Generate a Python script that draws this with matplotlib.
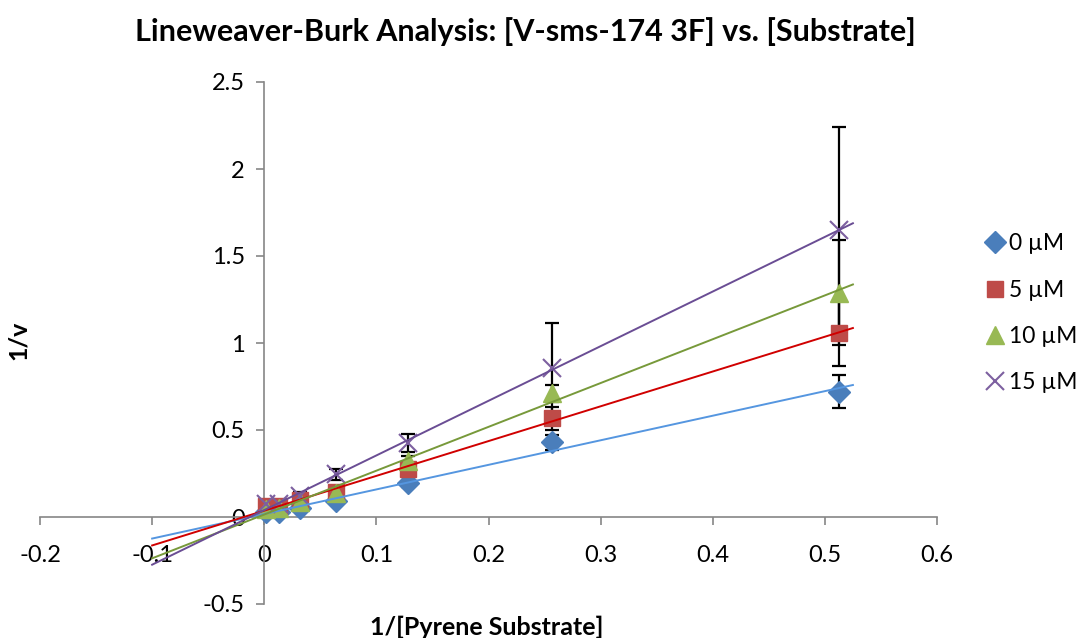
import numpy as np
import matplotlib
matplotlib.use('Agg')
import matplotlib.pyplot as plt
from matplotlib.lines import Line2D

plt.rcParams['font.family'] = ['Lato', 'DejaVu Sans']

# 1/[S] values
x_vals = [0.5128, 0.2564, 0.1282, 0.0641, 0.0321, 0.0128, 0.0020]

# 1/v for each inhibitor concentration
v_0uM = [0.72, 0.43, 0.195, 0.09, 0.05, 0.030, 0.030]
v_5uM = [1.06, 0.567, 0.274, 0.145, 0.095, 0.065, 0.065]
v_10uM = [1.29, 0.71, 0.32, 0.14, 0.085, 0.05, 0.045]
v_15uM = [1.65, 0.855, 0.425, 0.245, 0.120, 0.075, 0.075]

# standard errors
err_0uM = [0.095, 0.043, 0.02, 0.01, 0.01, 0.01, 0.01]
err_5uM = [0.19, 0.067, 0.03, 0.02, 0.01, 0.01, 0.01]
err_10uM = [0.30, 0.05, 0.03, 0.02, 0.01, 0.01, 0.01]
err_15uM = [0.59, 0.26, 0.05, 0.03, 0.025, 0.01, 0.01]

labels = ['0 µM', '5 µM', '10 µM', '15 µM']
series = [v_0uM, v_5uM, v_10uM, v_15uM]
errors = [err_0uM, err_5uM, err_10uM, err_15uM]
markers = ['D', 's', '^', 'x']
msizes = [11, 12, 13, 13]
colors = ['#4A7EBB', '#BE4B48', '#98B954', '#7D60A0']
line_colors = ['#5596E0', '#D00000', '#77993A', '#6A4D94']

fig = plt.figure(figsize=(10.85, 6.38), dpi=100)
ax = fig.add_axes([40/1085, 1-604/638, 897/1085, 522/638])

x = np.array(x_vals)
for i in range(4):
    y = np.array(series[i])
    ax.errorbar(x, y, yerr=errors[i], fmt='none', ecolor='black',
                elinewidth=1.6, capsize=5, capthick=1.6, zorder=2)
    if markers[i] == 'x':
        ax.plot(x, y, linestyle='none', marker='x', markersize=msizes[i],
                markeredgecolor=colors[i], markeredgewidth=1.5, zorder=3)
    else:
        ax.plot(x, y, linestyle='none', marker=markers[i], markersize=msizes[i],
                color=colors[i], markeredgecolor=colors[i], zorder=3)
    # linear trendline, extended back to -0.1
    slope, icpt = np.polyfit(x, y, 1)
    xt = np.array([-0.1, 0.525])
    ax.plot(xt, slope*xt + icpt, color=line_colors[i], linewidth=1.4, zorder=4)

ax.set_xlim(-0.2, 0.6)
ax.set_ylim(-0.5, 2.5)
ax.set_xticks([-0.2, -0.1, 0, 0.1, 0.2, 0.3, 0.4, 0.5, 0.6])
ax.set_xticklabels(['-0.2', '-0.1', '0', '0.1', '0.2', '0.3', '0.4', '0.5', '0.6'])
ax.set_yticks([-0.5, 0, 0.5, 1, 1.5, 2, 2.5])
ax.set_yticklabels(['-0.5', '0', '0.5', '1', '1.5', '2', '2.5'])

ax.spines['left'].set_position(('data', 0))
ax.spines['bottom'].set_position(('data', 0))
ax.spines['top'].set_visible(False)
ax.spines['right'].set_visible(False)
for s in ['left', 'bottom']:
    ax.spines[s].set_color('#868686')
    ax.spines[s].set_linewidth(1.2)
ax.tick_params(axis='x', direction='out', length=6, width=1.2, color='#868686',
               labelsize=17, pad=14)
ax.tick_params(axis='y', direction='out', length=6, width=1.2, color='#868686',
               labelsize=17, pad=8)
ax.patch.set_alpha(0)

fig.text(0.484, 0.95, 'Lineweaver-Burk Analysis: [V-sms-174 3F] vs. [Substrate]',
         ha='center', va='center', fontsize=22, fontweight='bold')
fig.text(0.017, 0.467, '1/v', ha='center', va='center', rotation=90,
         fontsize=18, fontweight='bold')
fig.text(0.449, 0.017, '1/[Pyrene Substrate]', ha='center', va='center',
         fontsize=18, fontweight='bold')

handles = []
for i in range(4):
    if markers[i] == 'x':
        h = Line2D([], [], linestyle='none', marker='x', markersize=msizes[i],
                   markeredgecolor=colors[i], markeredgewidth=1.5)
    else:
        h = Line2D([], [], linestyle='none', marker=markers[i], markersize=msizes[i],
                   color=colors[i])
    handles.append(h)
fig.legend(handles, labels, loc='center left', bbox_to_anchor=(0.895, 0.509),
           frameon=False, fontsize=16.5, handlelength=0.7, handletextpad=0.25,
           labelspacing=1.1, borderpad=0.2)

fig.savefig('out.png', dpi=100)
